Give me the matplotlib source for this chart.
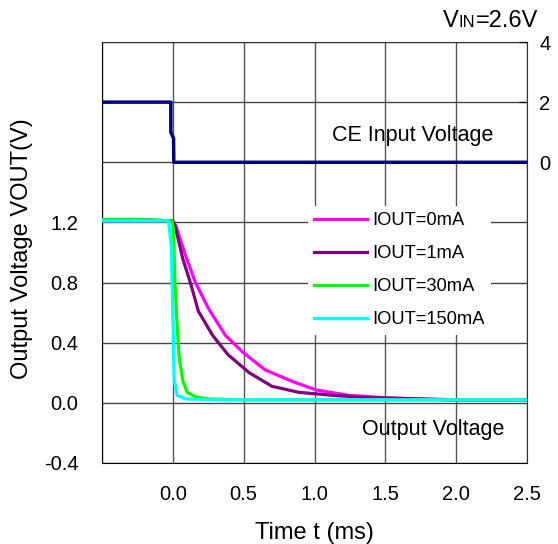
import numpy as np
import matplotlib.pyplot as plt

plt.rcParams['font.family'] = ['Liberation Sans', 'DejaVu Sans']

# output voltage traces (time in ms, volts)
t_0mA = [-0.5, -0.3, 0.0, 0.02, 0.09, 0.16, 0.25, 0.37, 0.49, 0.65, 0.85, 1.01, 1.24, 1.48, 1.71, 2.0, 2.5]
v_0mA = [1.21, 1.21, 1.21, 1.18, 0.98, 0.80, 0.63, 0.45, 0.34, 0.22, 0.14, 0.086, 0.05, 0.035, 0.025, 0.02, 0.02]

t_1mA = [-0.5, -0.3, 0.0, 0.02, 0.07, 0.13, 0.18, 0.28, 0.39, 0.54, 0.70, 0.89, 1.13, 1.36, 1.6, 2.0, 2.5]
v_1mA = [1.21, 1.22, 1.21, 1.16, 0.96, 0.78, 0.61, 0.45, 0.32, 0.20, 0.11, 0.07, 0.05, 0.035, 0.03, 0.02, 0.02]

t_30mA = [-0.5, -0.2, -0.005, 0.004, 0.015, 0.03, 0.045, 0.07, 0.10, 0.16, 0.25, 0.5, 1.0, 1.5, 2.0, 2.5]
v_30mA = [1.22, 1.22, 1.21, 1.16, 0.80, 0.52, 0.30, 0.15, 0.07, 0.04, 0.026, 0.02, 0.02, 0.02, 0.02, 0.02]

t_150mA = [-0.5, -0.2, -0.03, -0.01, 0.0, 0.01, 0.03, 0.09, 0.3, 1.0, 2.5]
v_150mA = [1.21, 1.21, 1.21, 1.03, 0.59, 0.15, 0.05, 0.026, 0.02, 0.02, 0.02]

# CE input (right axis)
t_ce = [-0.5, -0.014, -0.014, 0.005, 0.007, 2.5]
v_ce = [2.0, 2.0, 1.0, 0.8, 0.0, 0.0]

labels = ['IOUT=0mA', 'IOUT=1mA', 'IOUT=30mA', 'IOUT=150mA']
colors = ['#FF00FF', '#800080', '#00FF00', '#00FFFF']

x_ticks = [0.0, 0.5, 1.0, 1.5, 2.0, 2.5]
y_ticks = [-0.4, 0.0, 0.4, 0.8, 1.2]
y2_ticks = [0, 2, 4]

fig = plt.figure(figsize=(5.58, 5.44), dpi=100)
ax = fig.add_axes([102/558, 1-463/544, 425/558, 421/544])

# grid drawn by hand so labels can stop at 1.2
for x in np.arange(-0.5, 2.51, 0.5):
    ax.axvline(x, color='#555555', lw=1, zorder=1)
for y in np.arange(-0.4, 2.41, 0.4):
    ax.axhline(y, color='#444444', lw=1, zorder=1)

for t, v, lab, c in zip([t_0mA, t_1mA, t_30mA, t_150mA],
                        [v_0mA, v_1mA, v_30mA, v_150mA], labels, colors):
    ax.plot(t, v, color=c, lw=2.3, label=lab, zorder=3)

ax.set_xlim(-0.5, 2.5)
ax.set_ylim(-0.4, 2.4)
ax.set_xticks(x_ticks)
ax.set_xticklabels(['%.1f' % x for x in x_ticks])
ax.set_yticks(y_ticks)
ax.set_yticklabels(['%.1f' % y for y in y_ticks])
ax.tick_params(axis='both', direction='in', length=0, labelsize=14.5)
ax.tick_params(axis='x', pad=16)
ax.tick_params(axis='y', pad=17)
for s in ax.spines.values():
    s.set_color('#333333')
ax.spines['left'].set_color('black')
ax.spines['bottom'].set_color('black')

ax.set_xlabel('Time t (ms)', fontsize=17, labelpad=13)
ax.set_ylabel('Output Voltage VOUT(V)', fontsize=17)
ax.yaxis.set_label_coords(-(102 - 22) / 425, (463 - 249) / 421)
ax.yaxis.label.set_va('center')

leg = ax.legend(loc='upper left', bbox_to_anchor=((308 - 102) / 425, (463 - 206) / 421),
                borderaxespad=0, frameon=True, fontsize=13.2, handlelength=2.85,
                handletextpad=0.3, labelspacing=0.87, borderpad=0.35)
leg.get_frame().set_edgecolor('none')
leg.get_frame().set_facecolor('white')
leg.get_frame().set_alpha(1)
leg.get_frame().set_boxstyle('square', pad=0)
leg.set_zorder(4)

ax2 = ax.twinx()
ax2.plot(t_ce, v_ce, color='#000080', lw=2.5)
ax2.set_ylim(-10, 4)
ax2.set_yticks(y2_ticks)
ax2.set_yticklabels([str(v) for v in y2_ticks])
ax2.tick_params(axis='y', direction='in', length=6, labelsize=14.5, pad=9)
for s in ax2.spines.values():
    s.set_visible(False)

ax.text((332 - 102) / 425, (463 - 135) / 421, 'CE Input Voltage', transform=ax.transAxes,
        ha='left', va='center', fontsize=15.5)
ax.text((362 - 102) / 425, (463 - 429) / 421, 'Output Voltage', transform=ax.transAxes,
        ha='left', va='center', fontsize=15.5)

fig.text(443/558, 1-27/544, 'V', fontsize=17, ha='left', va='baseline')
fig.text(459/558, 1-27/544, 'IN', fontsize=12, ha='left', va='baseline')
fig.text(476/558, 1-27/544, '=2.6V', fontsize=17, ha='left', va='baseline')

fig.savefig('out.png', dpi=100)
